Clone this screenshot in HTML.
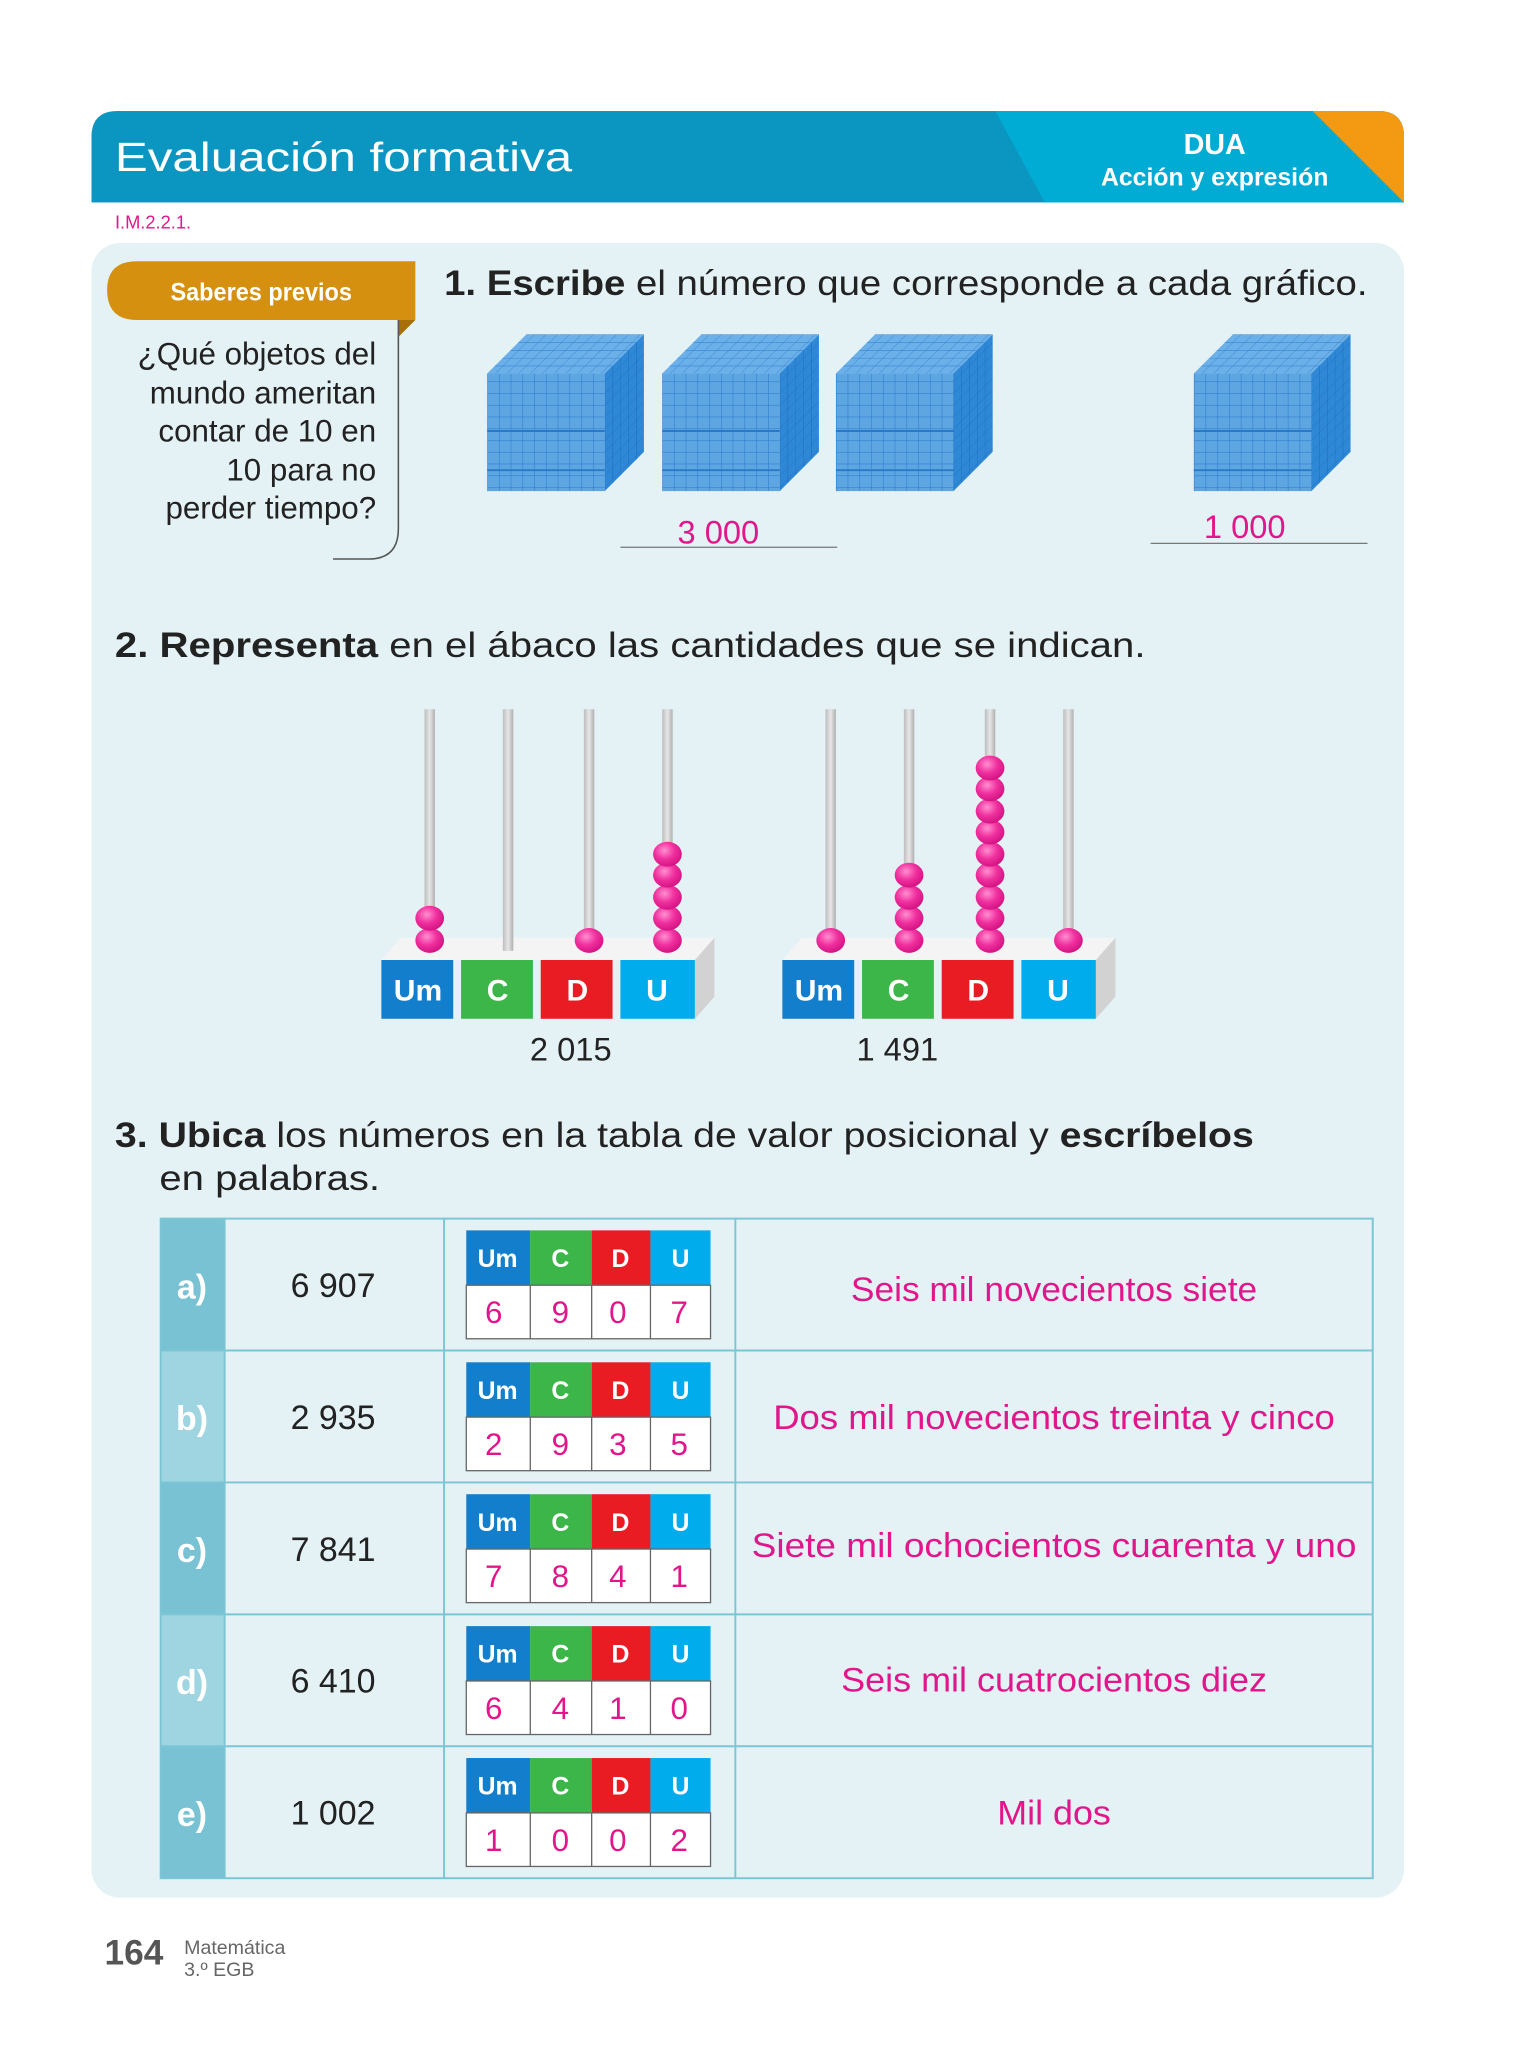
<!DOCTYPE html>
<html><head><meta charset="utf-8"><style>
html,body{margin:0;padding:0;background:#fff;}
svg{display:block;}
text{font-family:"Liberation Sans",sans-serif;}
</style></head><body>
<svg width="1536" height="2048" viewBox="0 0 1176 1568" xmlns="http://www.w3.org/2000/svg">
<defs>
<clipPath id="hc"><path d="M70,155 L70,105 Q70,85 90,85 L1055,85 Q1075,85 1075,105 L1075,155 Z"/></clipPath>
<pattern id="fg" width="9" height="9" patternUnits="userSpaceOnUse"><rect width="9" height="9" fill="#5ea6e2"/><path d="M0,0H9M0,0V9" stroke="#2f7fcf" stroke-width="0.9"/></pattern>
<pattern id="tg" width="9" height="6" patternUnits="userSpaceOnUse" patternTransform="skewX(-45)"><rect width="9" height="6" fill="#6cb0ea"/><path d="M0,0H9M0,0V6" stroke="#2f7fcf" stroke-width="0.8"/></pattern>
<pattern id="sg" width="6" height="9" patternUnits="userSpaceOnUse" patternTransform="skewY(-45)"><rect width="6" height="9" fill="#2e88d6"/><path d="M0,0H6M0,0V9" stroke="#1f6fbf" stroke-width="0.8"/></pattern>
<g id="cube">
<rect x="0" y="30" width="90" height="90" fill="url(#fg)"/>
<polygon points="0,30 30,0 120,0 90,30" fill="url(#tg)"/>
<polygon points="90,30 120,0 120,90 90,120" fill="url(#sg)"/>
<path d="M0,74H90M0,104H90" stroke="#2a78c8" stroke-width="1.5"/>
</g>
<radialGradient id="bd" cx="0.4" cy="0.35" r="0.7"><stop offset="0" stop-color="#ff8fd0"/><stop offset="0.5" stop-color="#f0309e"/><stop offset="1" stop-color="#d01080"/></radialGradient>
<linearGradient id="rod" x1="0" x2="1"><stop offset="0" stop-color="#bdbdbd"/><stop offset="0.5" stop-color="#e6e6e6"/><stop offset="1" stop-color="#b0b0b0"/></linearGradient>
<ellipse id="bead" cx="0" cy="0" rx="11" ry="9.5" fill="url(#bd)"/>
</defs>

<g clip-path="url(#hc)">
<rect x="70" y="85" width="1005" height="70" fill="#0a96c0"/>
<polygon points="762,85 1075,85 1075,155 800,155" fill="#00acd3"/>
<polygon points="1005,85 1075,85 1075,155" fill="#f39a12"/>
</g>
<text x="88" y="131" font-size="31" fill="#fff" textLength="350" lengthAdjust="spacingAndGlyphs">Evaluación formativa</text>
<text x="930" y="118" font-size="22" font-weight="bold" fill="#fff" text-anchor="middle">DUA</text>
<text x="930" y="142" font-size="19" font-weight="bold" fill="#fff" text-anchor="middle">Acción y expresión</text>
<text x="88" y="175" font-size="14" fill="#e0168a">I.M.2.2.1.</text>

<rect x="70" y="186" width="1005" height="1267" rx="22" fill="#e4f2f6"/>

<path d="M105,200 L318,200 L318,245 L105,245 Q82,245 82,222 Q82,200 105,200 Z" fill="#d4900e"/>
<polygon points="305,245 318,245 305,258" fill="#a86e08"/>
<text x="200" y="230" font-size="19" font-weight="bold" fill="#fff" text-anchor="middle" textLength="139" lengthAdjust="spacingAndGlyphs">Saberes previos</text>
<path d="M305,245 L305,405 Q305,428 282,428 L255,428" fill="none" stroke="#555" stroke-width="1.2"/>
<g font-size="24" fill="#222" text-anchor="end">
<text x="288" y="279">¿Qué objetos del</text>
<text x="288" y="309">mundo ameritan</text>
<text x="288" y="338">contar de 10 en</text>
<text x="288" y="368">10 para no</text>
<text x="288" y="397">perder tiempo?</text>
</g>

<text x="340" y="226" font-size="27" fill="#222" textLength="707" lengthAdjust="spacingAndGlyphs"><tspan font-weight="bold">1. Escribe</tspan> el número que corresponde a cada gráfico.</text>
<use href="#cube" x="373" y="256"/>
<use href="#cube" x="507" y="256"/>
<use href="#cube" x="640" y="256"/>
<use href="#cube" x="914" y="256"/>
<text x="550" y="416" font-size="25" fill="#e0168a" text-anchor="middle">3 000</text>
<line x1="475" y1="419" x2="641" y2="419" stroke="#777" stroke-width="1"/>
<text x="953" y="412" font-size="25" fill="#e0168a" text-anchor="middle">1 000</text>
<line x1="881" y1="416" x2="1047" y2="416" stroke="#777" stroke-width="1"/>

<text x="88" y="503" font-size="27" fill="#222" textLength="789" lengthAdjust="spacingAndGlyphs"><tspan font-weight="bold">2. Representa</tspan> en el ábaco las cantidades que se indican.</text>

<g id="ab1">
<polygon points="292,735 307,718 547,718 532,735" fill="#f4f4f4"/>
<polygon points="532,735 547,718 547,763 532,780" fill="#d2d2d2"/>
<rect x="325" y="543" width="8" height="185" fill="url(#rod)"/>
<rect x="385" y="543" width="8" height="185" fill="url(#rod)"/>
<rect x="447" y="543" width="8" height="185" fill="url(#rod)"/>
<rect x="507" y="543" width="8" height="185" fill="url(#rod)"/>
<rect x="292" y="735" width="55" height="45" fill="#137ecb"/>
<rect x="353" y="735" width="55" height="45" fill="#3db649"/>
<rect x="414" y="735" width="55" height="45" fill="#e91c24"/>
<rect x="475" y="735" width="57" height="45" fill="#00acec"/>
<g font-size="23" font-weight="bold" fill="#fff" text-anchor="middle">
<text x="320" y="766">Um</text><text x="381" y="766">C</text><text x="442" y="766">D</text><text x="503" y="766">U</text>
</g>
</g>
<use href="#bead" x="329" y="720"/><use href="#bead" x="329" y="703"/>
<use href="#bead" x="451" y="720"/>
<use href="#bead" x="511" y="720"/><use href="#bead" x="511" y="703"/><use href="#bead" x="511" y="687"/><use href="#bead" x="511" y="670"/><use href="#bead" x="511" y="654"/>
<text x="437" y="812" font-size="25" fill="#222" text-anchor="middle">2 015</text>

<use href="#ab1" x="307" y="0"/>
<use href="#bead" x="636" y="720"/>
<use href="#bead" x="696" y="720"/><use href="#bead" x="696" y="703"/><use href="#bead" x="696" y="687"/><use href="#bead" x="696" y="670"/>
<use href="#bead" x="758" y="720"/><use href="#bead" x="758" y="703"/><use href="#bead" x="758" y="687"/><use href="#bead" x="758" y="670"/><use href="#bead" x="758" y="654"/><use href="#bead" x="758" y="637"/><use href="#bead" x="758" y="621"/><use href="#bead" x="758" y="604"/><use href="#bead" x="758" y="588"/>
<use href="#bead" x="818" y="720"/>
<text x="687" y="812" font-size="25" fill="#222" text-anchor="middle">1 491</text>

<text x="88" y="878" font-size="27" fill="#222" textLength="872" lengthAdjust="spacingAndGlyphs"><tspan font-weight="bold">3. Ubica</tspan> los números en la tabla de valor posicional y <tspan font-weight="bold">escríbelos</tspan></text>
<text x="122" y="911" font-size="27" fill="#222" textLength="169" lengthAdjust="spacingAndGlyphs">en palabras.</text>

<rect x="123" y="933" width="49" height="101" fill="#78c2d4"/>
<rect x="123" y="1034" width="49" height="101" fill="#9fd5e1"/>
<rect x="123" y="1135" width="49" height="101" fill="#78c2d4"/>
<rect x="123" y="1236" width="49" height="101" fill="#9fd5e1"/>
<rect x="123" y="1337" width="49" height="101" fill="#78c2d4"/>
<g stroke="#7cc5d5" stroke-width="1.5" fill="none">
<rect x="123" y="933" width="928" height="505"/>
<path d="M123,1034H1051M123,1135H1051M123,1236H1051M123,1337H1051M172,933V1438M340,933V1438M563,933V1438"/>
</g>
<g font-size="26" font-weight="bold" fill="#fff" text-anchor="middle">
<text x="147" y="994">a)</text><text x="147" y="1095">b)</text><text x="147" y="1196">c)</text><text x="147" y="1297">d)</text><text x="147" y="1398">e)</text>
</g>
<g font-size="26" fill="#222" text-anchor="middle">
<text x="255" y="993">6 907</text><text x="255" y="1094">2 935</text><text x="255" y="1195">7 841</text><text x="255" y="1296">6 410</text><text x="255" y="1397">1 002</text>
</g>
<g font-size="26" fill="#e0168a" text-anchor="middle">
<text x="807" y="996" textLength="311" lengthAdjust="spacingAndGlyphs">Seis mil novecientos siete</text>
<text x="807" y="1094" textLength="430" lengthAdjust="spacingAndGlyphs">Dos mil novecientos treinta y cinco</text>
<text x="807" y="1192" textLength="463" lengthAdjust="spacingAndGlyphs">Siete mil ochocientos cuarenta y uno</text>
<text x="807" y="1295" textLength="326" lengthAdjust="spacingAndGlyphs">Seis mil cuatrocientos diez</text>
<text x="807" y="1397" textLength="87" lengthAdjust="spacingAndGlyphs">Mil dos</text>
</g>

<g id="pv">
<rect x="357" y="942" width="49" height="42" fill="#137ecb"/>
<rect x="406" y="942" width="47" height="42" fill="#3db649"/>
<rect x="453" y="942" width="45" height="42" fill="#e91c24"/>
<rect x="498" y="942" width="46" height="42" fill="#00acec"/>
<rect x="357" y="984" width="187" height="41" fill="#fff" stroke="#666" stroke-width="1"/>
<path d="M406,984V1025M453,984V1025M498,984V1025" stroke="#666" stroke-width="1"/>
<g font-size="19" font-weight="bold" fill="#fff" text-anchor="middle">
<text x="381" y="970">Um</text><text x="429" y="970">C</text><text x="475" y="970">D</text><text x="521" y="970">U</text>
</g>
</g>
<use href="#pv" y="101"/><use href="#pv" y="202"/><use href="#pv" y="303"/><use href="#pv" y="404"/>
<g font-size="24" fill="#e0168a" text-anchor="middle">
<text x="378" y="1013">6</text><text x="429" y="1013">9</text><text x="473" y="1013">0</text><text x="520" y="1013">7</text>
<text x="378" y="1114">2</text><text x="429" y="1114">9</text><text x="473" y="1114">3</text><text x="520" y="1114">5</text>
<text x="378" y="1215">7</text><text x="429" y="1215">8</text><text x="473" y="1215">4</text><text x="520" y="1215">1</text>
<text x="378" y="1316">6</text><text x="429" y="1316">4</text><text x="473" y="1316">1</text><text x="520" y="1316">0</text>
<text x="378" y="1417">1</text><text x="429" y="1417">0</text><text x="473" y="1417">0</text><text x="520" y="1417">2</text>
</g>

<text x="80" y="1504" font-size="27" font-weight="bold" fill="#555">164</text>
<text x="141" y="1496" font-size="15" fill="#666">Matemática</text>
<text x="141" y="1513" font-size="15" fill="#666">3.º EGB</text>
</svg>
</body></html>
